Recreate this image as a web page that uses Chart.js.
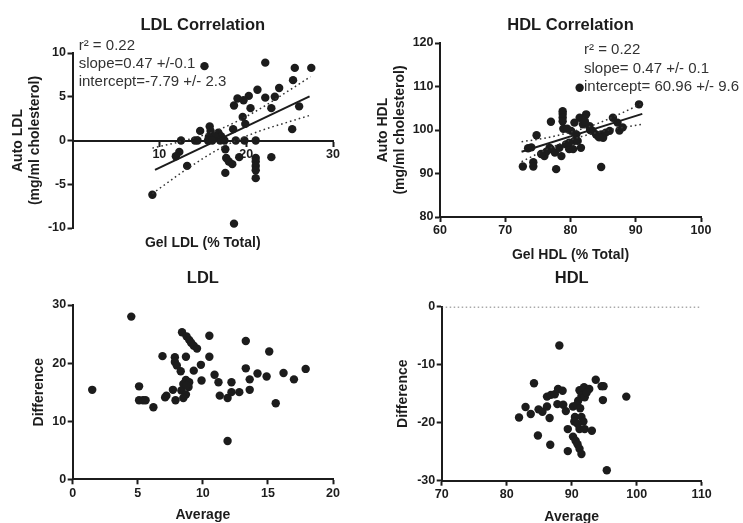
<!DOCTYPE html>
<html>
<head>
<meta charset="utf-8">
<script src="https://cdn.jsdelivr.net/npm/chart.js@4.4.1/dist/chart.umd.min.js"></script>
<style>
  html, body { margin: 0; padding: 0; background: #fff; width: 743px; height: 523px; overflow: hidden; }
  canvas { position: absolute; }
</style>
</head>
<body>
<canvas id="ldlCorr" width="370" height="270" style="left:0;top:0"></canvas>
<canvas id="hdlCorr" width="373" height="270" style="left:370px;top:0"></canvas>
<canvas id="ldlBa" width="370" height="270" style="left:0;top:262px"></canvas>
<canvas id="hdlBa" width="373" height="270" style="left:370px;top:262px"></canvas>
<script>
// LDL correlation
const ldlCorrGel = [15.2, 22.2, 25.6, 27.5, 25.4, 23.8, 21.3, 19.0, 20.3, 19.7, 22.2, 23.3, 18.6, 20.5, 22.9, 26.1,
  19.6, 19.9, 25.3, 18.5, 14.7, 15.8, 15.9, 16.8, 17.1, 16.4, 17.3, 15.7, 12.5, 14.1, 14.4, 15.6, 16.1, 17.0,
  17.5, 18.8, 19.8, 21.1, 12.3, 11.9, 13.2, 9.2, 17.6, 17.7, 18.0, 18.4, 17.6, 19.2, 21.1, 21.1, 21.1, 21.1,
  21.1, 22.9, 18.6];
const ldlCorrAuto = [8.5, 8.9, 8.3, 8.3, 6.9, 6.0, 5.8, 4.8, 5.1, 4.6, 4.9, 5.0, 4.0, 3.7, 3.7, 3.9,
  2.7, 1.9, 1.3, 1.3, 1.1, 1.6, 1.1, 0.9, 0.5, 0.45, 0.2, 0.4, 0, 0, 0, 0, 0, 0,
  0, 0, 0, 0, -1.3, -1.8, -2.9, -6.2, -1.0, -2.0, -2.4, -2.7, -3.7, -1.9, -2.0, -2.4, -2.9, -3.4,
  -4.3, -1.9, -9.5];
const ldlFitGel = [9.5, 27.3];
const ldlFitAuto = [-3.35, 5.05];
const ldlBandGel = [9.2, 13, 17, 21, 25, 27.4];
const ldlBandUpper = [-0.87, 0.02, 1.3, 3.28, 5.76, 7.29];
const ldlBandLower = [-6.07, -3.38, -0.9, 0.88, 2.16, 2.89];
const ldlCorrXTicks = [10, 20, 30];
const ldlCorrYTicks = [-10, -5, 0, 5, 10];
const ldlStats = ['r\u00b2 = 0.22', 'slope=0.47 +/-0.1', 'intercept=-7.79 +/- 2.3'];

// HDL correlation
const hdlCorrGel = [81.4, 90.5, 78.8, 78.8, 78.8, 78.8, 78.9, 77.0, 74.8, 74.0, 72.7, 74.3, 74.3, 77.8, 76.0,
  77.0, 77.6, 78.3, 79.3, 79.8, 78.6, 80.6, 80.9, 80.1, 82.4, 81.4, 80.6, 81.9, 82.9, 83.4, 83.9, 84.7, 85.4,
  86.5, 87.2, 87.5, 79.8, 81.1, 80.4, 81.6, 84.7, 84.2, 85.0, 88.0, 76.8, 73.5, 76.3, 83.0, 84.4, 86.0, 82.2,
  79.5, 75.5];
const hdlCorrAuto = [109.7, 105.9, 104.3, 103.7, 102.9, 102.0, 100.3, 101.9, 98.8, 96.0, 91.6, 92.6, 91.6, 91.0, 94.0,
  95.6, 94.8, 95.9, 96.7, 95.6, 94.0, 97.5, 99.0, 99.8, 103.6, 102.8, 101.7, 101.3, 100.9, 99.8, 99.0, 99.0, 99.4,
  102.8, 101.7, 99.9, 97.1, 97.5, 95.6, 95.9, 91.5, 98.6, 98.2, 100.6, 95.9, 95.8, 95.0, 100.0, 98.3, 99.8, 102.0,
  100.3, 94.5];
const hdlFitGel = [72.5, 91];
const hdlFitAuto = [95.0, 103.7];
const hdlBandGel = [72.5, 76, 80, 84, 88, 91];
const hdlBandUpper = [97.3, 98.1, 99.5, 101.4, 104.0, 106.1];
const hdlBandLower = [92.7, 95.3, 97.7, 99.4, 100.6, 101.3];
const hdlCorrXTicks = [60, 70, 80, 90, 100];
const hdlCorrYTicks = [80, 90, 100, 110, 120];
const hdlStats = ['r\u00b2 = 0.22', 'slope= 0.47 +/- 0.1', 'intercept= 60.96 +/- 9.6'];

// LDL difference vs average
const ldlBaAvg = [1.5, 4.5, 5.1, 5.1, 5.4, 5.6, 6.2, 6.9, 7.1, 7.2, 7.7, 7.85, 7.85, 8.0, 8.3, 7.9, 8.4, 8.75,
  8.95, 9.1, 9.3, 9.55, 8.7, 8.7, 8.95, 8.5, 8.9, 8.35, 8.7, 8.5, 8.75, 9.3, 9.85, 9.9, 10.5, 10.5, 10.9, 11.2,
  11.3, 11.9, 12.2, 12.2, 12.8, 11.9, 13.3, 13.3, 13.6, 13.6, 14.2, 14.9, 15.1, 15.6, 16.2, 17.0, 17.9];
const ldlBaDiff = [15.4, 28.0, 16.0, 13.6, 13.6, 13.6, 12.4, 21.2, 14.1, 14.4, 15.4, 21.0, 20.2, 19.6, 18.6, 13.6, 25.3, 24.6,
  24.0, 23.5, 23.0, 22.5, 21.1, 17.1, 16.7, 16.4, 15.9, 15.3, 14.6, 14.0, 16.2, 18.7, 19.7, 17.0, 24.7, 21.1, 18.0, 16.7,
  14.4, 14.0, 16.7, 15.0, 15.0, 6.6, 23.8, 19.1, 17.2, 15.4, 18.2, 17.7, 22.0, 13.1, 18.3, 17.2, 19.0];
const ldlBaXTicks = [0, 5, 10, 15, 20];
const ldlBaYTicks = [0, 10, 20, 30];

// HDL difference vs average
const hdlBaAvg = [88.1, 81.9, 82.9, 83.7, 84.2, 84.9, 85.5, 84.8, 86.2, 86.6, 86.2, 86.8, 87.4, 87.9, 88.6, 87.8,
  88.7, 89.1, 86.7, 89.4, 89.4, 90.2, 90.5, 90.4, 90.2, 90.6, 90.9, 91.2, 91.5, 91.2, 91.9, 92.7, 91.5, 91.0, 90.8,
  92.0, 93.7, 94.6, 94.9, 94.8, 91.5, 91.8, 91.2, 92.0, 93.1, 95.4, 98.4, 91.3, 92.3, 90.9];
const hdlBaDiff = [-6.7, -19.1, -17.3, -18.5, -13.2, -17.7, -18.1, -22.2, -17.2, -19.2, -15.5, -15.2, -15.1, -14.2, -14.5, -16.8,
  -16.9, -18.0, -23.8, -21.1, -24.9, -17.2, -19.0, -19.8, -22.4, -23.1, -23.7, -24.5, -25.4, -14.4, -13.9, -14.2, -15.4, -16.2, -16.9,
  -15.6, -12.6, -13.7, -13.7, -16.1, -19.0, -19.8, -21.1, -21.1, -21.4, -28.2, -15.5, -17.5, -14.8, -20.2];
const hdlZeroAvg = [70, 110];
const hdlZeroDiff = [0, 0];
const hdlBaXTicks = [70, 80, 90, 100, 110];
const hdlBaYTicks = [-30, -20, -10, 0];

const INK = '#1c1c1c';
const FONT = '"Liberation Sans", Arial, sans-serif';
Chart.defaults.font.family = FONT;
Chart.defaults.color = INK;

function pairs(xs, ys) {
  return xs.map((x, i) => ({ x: x, y: ys[i] }));
}

const statsText = {
  id: 'statsText',
  afterDraw(chart, args, opts) {
    if (!opts.lines) return;
    const ctx = chart.ctx;
    ctx.save();
    ctx.font = '15px ' + FONT;
    ctx.fillStyle = '#333';
    ctx.textBaseline = 'middle';
    opts.lines.forEach((t, i) => ctx.fillText(t, opts.left, opts.top + i * opts.gap));
    ctx.restore();
  }
};

function makeScale(o) {
  const s = {
    type: 'linear',
    min: o.ticks[0],
    max: o.ticks[o.ticks.length - 1],
    position: o.position,
    afterBuildTicks: (sc) => { sc.ticks = o.tickValues.map(v => ({ value: v })); },
    ticks: { autoSkip: false, padding: 1.5, color: INK, font: { size: 12.5, weight: 'bold' } },
    grid: { drawOnChartArea: false, drawTicks: true, tickLength: 5, tickWidth: 2, tickColor: INK },
    border: { display: true, color: INK, width: 2 },
    title: { display: false }
  };
  if (o.title) {
    s.title = {
      display: true, text: o.title, color: INK,
      font: { size: 14, weight: 'bold', lineHeight: 1.2 },
      padding: o.titlePad
    };
  }
  if (o.size) {
    s.afterFit = (sc) => { if (sc.isHorizontal()) sc.height = o.size; else sc.width = o.size; };
  }
  return s;
}

function pointSet(data) {
  return { type: 'scatter', data: data, pointRadius: 4.2, pointHoverRadius: 4.2, pointBackgroundColor: INK, pointBorderWidth: 0, showLine: false };
}
function solidLine(data) {
  return { type: 'line', data: data, borderColor: INK, borderWidth: 2, pointRadius: 0, fill: false, tension: 0 };
}
function dottedLine(data) {
  return { type: 'line', data: data, borderColor: '#333', borderWidth: 1.5, borderDash: [1.6, 3], pointRadius: 0, fill: false, cubicInterpolationMode: 'monotone' };
}

function titleOpts(text, top, bottom) {
  return { display: true, text: text, color: INK, fullSize: false, font: { size: 16.5, weight: 'bold', lineHeight: 1 }, padding: { top: top, bottom: bottom } };
}

function makeChart(id, cfg) {
  return new Chart(document.getElementById(id), {
    type: 'scatter',
    data: { datasets: cfg.datasets },
    options: {
      responsive: false,
      animation: false,
      layout: { padding: { left: 0, top: 0, bottom: 0, right: cfg.right } },
      plugins: {
        legend: { display: false },
        tooltip: { enabled: false },
        title: cfg.title,
        subtitle: cfg.subtitle || { display: false },
        statsText: cfg.stats || {}
      },
      scales: { x: cfg.x, y: cfg.y }
    },
    plugins: [statsText]
  });
}

document.addEventListener('DOMContentLoaded', function () {
  makeChart('ldlCorr', {
    right: 37,
    title: titleOpts('LDL Correlation', 16.75, 19.75),
    subtitle: { display: true, position: 'bottom', text: 'Gel LDL (% Total)', color: INK, fullSize: false,
      font: { size: 14, weight: 'bold', lineHeight: 1 }, padding: { top: 8, bottom: 20 } },
    stats: { lines: ldlStats, left: 78.7, top: 45.7, gap: 18 },
    datasets: [
      solidLine(pairs(ldlFitGel, ldlFitAuto)),
      dottedLine(pairs(ldlBandGel, ldlBandUpper)),
      dottedLine(pairs(ldlBandGel, ldlBandLower)),
      pointSet(pairs(ldlCorrGel, ldlCorrAuto))
    ],
    x: makeScale({ ticks: [0, 30], tickValues: ldlCorrXTicks, position: { y: 0 } }),
    y: makeScale({ ticks: ldlCorrYTicks, tickValues: ldlCorrYTicks, position: 'left', size: 72.5,
      title: ['Auto LDL', '(mg/ml cholesterol)'], titlePad: { top: 9.6, bottom: 0 } })
  });

  makeChart('hdlCorr', {
    right: 42,
    title: titleOpts('HDL Correlation', 16.75, 9.75),
    stats: { lines: hdlStats, left: 214, top: 50, gap: 18.6 },
    datasets: [
      solidLine(pairs(hdlFitGel, hdlFitAuto)),
      dottedLine(pairs(hdlBandGel, hdlBandUpper)),
      dottedLine(pairs(hdlBandGel, hdlBandLower)),
      pointSet(pairs(hdlCorrGel, hdlCorrAuto))
    ],
    x: makeScale({ ticks: hdlCorrXTicks, tickValues: hdlCorrXTicks, position: 'bottom', size: 53,
      title: 'Gel HDL (% Total)', titlePad: { top: 0, bottom: 6.6 } }),
    y: makeScale({ ticks: hdlCorrYTicks, tickValues: hdlCorrYTicks, position: 'left', size: 70,
      title: ['Auto HDL', '(mg/ml cholesterol)'], titlePad: { top: 4.9, bottom: 0 } })
  });

  makeChart('ldlBa', {
    right: 37,
    title: titleOpts('LDL', 8.05, 18.45),
    datasets: [pointSet(pairs(ldlBaAvg, ldlBaDiff))],
    x: makeScale({ ticks: ldlBaXTicks, tickValues: ldlBaXTicks, position: 'bottom', size: 52.7,
      title: 'Average', titlePad: { top: 0, bottom: 8.6 } }),
    y: makeScale({ ticks: ldlBaYTicks, tickValues: ldlBaYTicks, position: 'left', size: 72.7,
      title: 'Difference', titlePad: { top: 31, bottom: 0 } })
  });

  makeChart('hdlBa', {
    right: 41.3,
    title: titleOpts('HDL', 7.75, 20.45),
    datasets: [
      { type: 'line', data: pairs(hdlZeroAvg, hdlZeroDiff), borderColor: '#555', borderWidth: 1.5, borderDash: [1.5, 2.5], pointRadius: 0, fill: false },
      pointSet(pairs(hdlBaAvg, hdlBaDiff))
    ],
    x: makeScale({ ticks: hdlBaXTicks, tickValues: hdlBaXTicks, position: 'bottom', size: 51.3,
      title: 'Average', titlePad: { top: 0, bottom: 6.9 } }),
    y: makeScale({ ticks: hdlBaYTicks, tickValues: hdlBaYTicks, position: 'left', size: 71.7,
      title: 'Difference', titlePad: { top: 24.9, bottom: 0 } })
  });
});
</script>
</body>
</html>
